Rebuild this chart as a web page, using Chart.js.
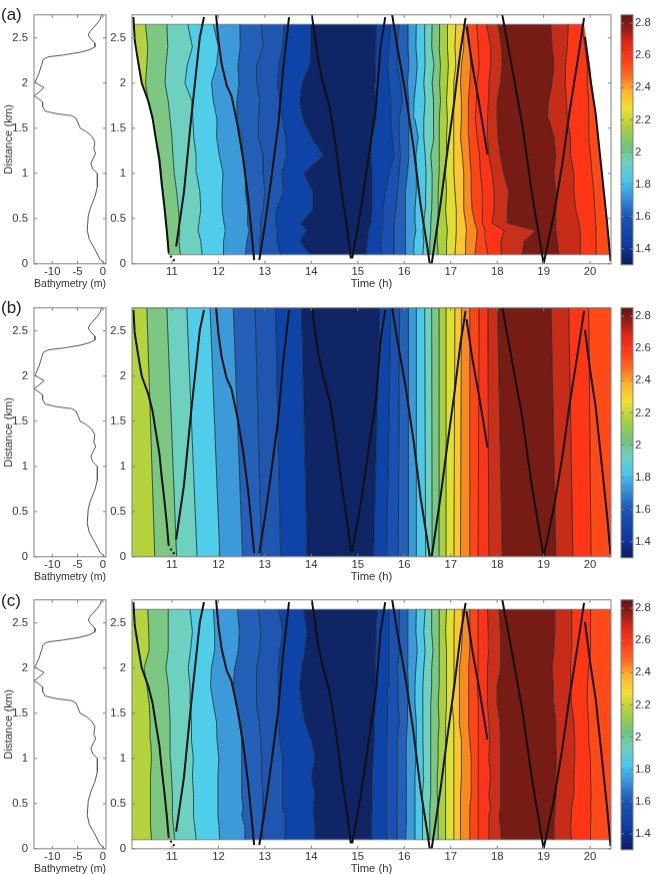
<!DOCTYPE html>
<html lang="en">
  <head>
    <meta charset="UTF-8" />
    <title>Bathymetry and contours</title>
    <script src="https://cdn.jsdelivr.net/npm/chart.js@4/dist/chart.umd.min.js"></script>
    <style>
      body { margin: 0; background: #fff; }
      #page { position: relative; width: 656px; height: 874px; overflow: hidden; }
      canvas { position: absolute; filter: blur(0.35px); }
      .tag { position: absolute; left: 1px; font: 17px "Liberation Sans", sans-serif; color: #222; }
    </style>
  </head>
  <body>
    <div id="page"></div>
    <script>
      // tick labels
      const distTicks = [0, 0.5, 1, 1.5, 2, 2.5];
      const bathyTicks = [-10, -5, 0];
      const timeTicks = [11, 12, 13, 14, 15, 16, 17, 18, 19, 20];
      const cbarTicks = [1.4, 1.6, 1.8, 2, 2.2, 2.4, 2.6, 2.8];

      // bathymetry profile, same in all three panels
      const bathyDist = [2.756, 2.7, 2.63, 2.57, 2.53, 2.49, 2.44, 2.4, 2.37, 2.34, 2.31, 2.29, 2.26, 2.2, 2.11, 2.01, 1.98, 1.95, 1.9, 1.86, 1.83, 1.79, 1.74, 1.69, 1.66, 1.64, 1.61, 1.53, 1.5, 1.46, 1.41, 1.35, 1.27, 1.22, 1.11, 1.05, 1, 0.85, 0.74, 0.63, 0.53, 0.37, 0.27, 0.16, 0.05, 0];
      const bathyDepth = [-0.26, -0.59, -1.58, -2.57, -2.89, -2.43, -1.58, -1.58, -2.57, -4.54, -7.83, -10.8, -11.8, -12.1, -12.6, -13.4, -12.6, -11.6, -12.6, -13.6, -12.8, -11.9, -11.9, -11.4, -9.1, -6.2, -5.3, -4.7, -4.5, -3.2, -2.2, -1.6, -1.8, -1.45, -2.4, -2.0, -1.1, -1.1, -1.6, -2.4, -2.9, -3.1, -2.7, -1.6, -0.6, 0.4];

      // ship track, null = break between legs
      const trackTime = [10.17, 10.2, 10.28, 10.35, 10.49, 10.58, 10.66, 10.73, 10.78, 10.83, 10.89, 10.93, null, 10.97, 10.99, null, 11.03, 11.05, null,
        11.09, 11.26, 11.4, 11.53, 11.6, 11.69, null,
        11.95, 12.0, 12.07, 12.18, 12.28, 12.41, 12.53, 12.64, 12.71, 12.77, null,
        12.88, 13.0, 13.14, 13.29, 13.39, 13.52, null,
        14.01, 14.08, 14.15, 14.24, 14.4, 14.53, 14.67, 14.78, 14.85, null,
        14.88, 15.06, 15.24, 15.39, 15.49, 15.59, null,
        15.74, 15.85, 16.03, 16.21, 16.35, 16.5, 16.55, null,
        16.59, 16.78, 16.93, 17.07, 17.21, 17.32, null,
        17.34, 17.46, 17.59, 17.71, 17.79, null,
        18.11, 18.32, 18.54, 18.75, 19.0, null,
        19.0, 19.22, 19.4, 19.56, 19.72, 19.87, null,
        19.89, 20.01, 20.12, 20.22, 20.37, 20.44];
      const trackDist = [2.73, 2.47, 2.21, 2.0, 1.8, 1.62, 1.36, 1.14, 0.88, 0.66, 0.36, 0.12, null, 0.09, 0.07, null, 0.05, 0.03, null,
        0.19, 0.8, 1.54, 2.17, 2.51, 2.73, null,
        2.755, 2.47, 2.21, 1.97, 1.86, 1.54, 1.17, 0.73, 0.36, 0.04, null,
        0.04, 0.43, 0.95, 1.54, 2.14, 2.73, null,
        2.755, 2.51, 2.25, 2.03, 1.72, 1.29, 0.73, 0.36, 0.06, null,
        0.06, 0.58, 1.21, 1.73, 2.4, 2.73, null,
        2.755, 2.4, 1.88, 1.25, 0.66, 0.17, 0, null,
        0, 0.66, 1.25, 1.77, 2.36, 2.72, null,
        2.63, 2.21, 1.84, 1.47, 1.21, null,
        2.755, 2.17, 1.54, 0.77, 0, null,
        0, 0.54, 1.1, 1.69, 2.21, 2.72, null,
        2.51, 2.03, 1.66, 1.17, 0.43, 0.03];

      // fill colour of each band, left to right
      const bandColors = ["#b5d33d", "#7cc882", "#6ed0bf", "#50cde8", "#3d9ad8", "#2460b8", "#1e56b0", "#0e44a8", "#0f2565",
        "#0e44a8", "#1a50b0", "#2460b8", "#3d9ad8", "#4cc8e8", "#6ed0bf", "#7cc882", "#a8d040", "#e0e030", "#fdc52e",
        "#fa8a20", "#ff4518", "#ff3318", "#c8301a", "#771c14", "#c62c18", "#ff3616", "#ff4a18"];

      // colour bar
      const cbarValues = [1.3, 1.42, 1.6, 1.72, 1.82, 1.93, 2.03, 2.15, 2.27, 2.38, 2.47, 2.58, 2.68, 2.75, 2.852];
      const cbarColors = ["#0c1c60", "#0f3a9c", "#1a56b4", "#3a90d8", "#46c8ee", "#6ed0c0", "#70c47c", "#a8d040", "#f0e030", "#fdb52e", "#fa7020", "#ff3a18", "#e02818", "#a02018", "#601414"];

      // contours of panel (a): time (h) of each line at distances in gridDist
      const gridDist = [2.65, 2.4, 2.2, 2, 1.8, 1.6, 1.4, 1.2, 1, 0.8, 0.6, 0.45, 0.37, 0.25, 0.1];
      const contoursA = [
        [10.17, 10.24, 10.29, 10.34, 10.49, 10.58, 10.65, 10.73, 10.77, 10.81, 10.85, 10.88, 10.89, 10.91, 10.93],
        [10.43, 10.48, 10.46, 10.43, 10.49, 10.58, 10.65, 10.73, 10.77, 10.81, 10.85, 10.88, 10.89, 10.91, 10.93],
        [10.89, 10.91, 10.87, 10.85, 10.92, 10.96, 11.0, 11.02, 11.05, 11.1, 11.14, 11.16, 11.17, 11.15, 11.18],
        [11.34, 11.44, 11.33, 11.28, 11.43, 11.45, 11.47, 11.52, 11.53, 11.6, 11.62, 11.58, 11.56, 11.62, 11.65],
        [11.89, 12.0, 11.96, 11.85, 11.89, 11.97, 11.96, 12.02, 12.1, 12.08, 12.08, 12.12, 12.15, 12.11, 12.1],
        [12.46, 12.47, 12.42, 12.44, 12.4, 12.39, 12.5, 12.53, 12.58, 12.58, 12.63, 12.62, 12.66, 12.61, 12.58],
        [12.92, 12.96, 12.82, 12.83, 12.89, 12.86, 12.86, 12.96, 12.96, 13.0, 12.96, 12.9, 12.92, 12.89, 12.9],
        [13.42, 13.38, 13.3, 13.27, 13.32, 13.37, 13.45, 13.47, 13.37, 13.4, 13.25, 13.23, 13.27, 13.26, 13.34],
        [13.99, 13.99, 13.97, 13.8, 13.75, 13.82, 14.0, 14.25, 13.84, 14.03, 14.03, 13.77, 13.9, 13.75, 13.97],
        [15.39, 15.39, 15.37, 15.35, 15.39, 15.39, 15.31, 15.28, 15.31, 15.31, 15.31, 15.28, 15.24, 15.21, 15.17],
        [15.71, 15.67, 15.64, 15.67, 15.71, 15.71, 15.74, 15.78, 15.67, 15.6, 15.53, 15.54, 15.53, 15.49, 15.51],
        [15.89, 15.85, 15.85, 15.92, 15.96, 15.89, 15.89, 15.92, 15.89, 15.85, 15.82, 15.78, 15.78, 15.78, 15.78],
        [16.08, 16.08, 16.1, 16.07, 16.1, 16.09, 16.1, 16.1, 16.07, 16.03, 16.03, 16.03, 16.02, 16.02, 16.02],
        [16.26, 16.25, 16.28, 16.25, 16.21, 16.23, 16.3, 16.25, 16.26, 16.26, 16.23, 16.23, 16.25, 16.21, 16.23],
        [16.44, 16.44, 16.45, 16.42, 16.45, 16.42, 16.42, 16.45, 16.47, 16.46, 16.45, 16.42, 16.4, 16.42, 16.4],
        [16.6, 16.59, 16.64, 16.6, 16.62, 16.64, 16.64, 16.57, 16.6, 16.6, 16.59, 16.57, 16.57, 16.55, 16.55],
        [16.76, 16.75, 16.78, 16.76, 16.78, 16.75, 16.75, 16.76, 16.75, 16.73, 16.73, 16.73, 16.71, 16.71, 16.73],
        [16.93, 16.93, 16.95, 16.93, 16.91, 16.93, 16.91, 16.91, 16.89, 16.91, 16.89, 16.91, 16.93, 16.91, 16.91],
        [17.11, 17.09, 17.11, 17.07, 17.07, 17.05, 17.07, 17.07, 17.07, 17.09, 17.12, 17.12, 17.12, 17.11, 17.09],
        [17.28, 17.28, 17.23, 17.21, 17.23, 17.23, 17.21, 17.25, 17.28, 17.28, 17.28, 17.32, 17.34, 17.32, 17.32],
        [17.36, 17.41, 17.43, 17.41, 17.38, 17.38, 17.39, 17.41, 17.44, 17.44, 17.46, 17.52, 17.57, 17.55, 17.52],
        [17.56, 17.59, 17.61, 17.57, 17.55, 17.53, 17.57, 17.62, 17.64, 17.68, 17.68, 17.68, 17.74, 17.75, 17.8],
        [17.77, 17.86, 17.86, 17.82, 17.81, 17.79, 17.79, 17.82, 17.89, 17.93, 17.93, 17.89, 18.15, 18.08, 18.09],
        [18.02, 18.09, 18.11, 18.07, 18.0, 18.0, 18.02, 18.07, 18.14, 18.25, 18.22, 18.22, 18.83, 18.58, 18.54],
        [19.15, 19.18, 19.22, 19.18, 19.1, 19.11, 19.22, 19.26, 19.22, 19.26, 19.26, 19.26, 19.26, 19.29, 19.33],
        [19.53, 19.51, 19.47, 19.46, 19.49, 19.51, 19.58, 19.58, 19.65, 19.65, 19.69, 19.76, 19.79, 19.79, 19.79],
        [19.83, 19.89, 19.94, 19.94, 19.97, 19.97, 19.97, 20.01, 20.04, 20.08, 20.1, 20.12, 20.13, 20.13, 20.13],
        [19.87, 19.94, 20.0, 20.04, 20.09, 20.13, 20.17, 20.22, 20.26, 20.31, 20.35, 20.38, 20.39, 20.42, 20.45],
      ];

      // contours of panel (b): straight lines, top and bottom time only
      const smoothDist = [2.755, 0];
      const contoursB = [
        [10.14, 10.14], [10.46, 10.63], [10.89, 11.1], [11.32, 11.54], [11.82, 12.03], [12.32, 12.52], [12.79, 12.93], [13.23, 13.34], [13.79, 13.91],
        [15.47, 15.34], [15.71, 15.62], [15.9, 15.87], [16.09, 16.09], [16.26, 16.26], [16.44, 16.46], [16.59, 16.6], [16.75, 16.75], [16.9, 16.9],
        [17.09, 17.07], [17.23, 17.21], [17.41, 17.41], [17.61, 17.59], [17.8, 17.82], [18.01, 18.11], [19.16, 19.26], [19.54, 19.63], [19.97, 20.02], [20.45, 20.45],
      ];

      // contours of panel (c), same distances as (a)
      const contoursC = [
        [10.14, 10.14, 10.14, 10.14, 10.14, 10.14, 10.14, 10.14, 10.14, 10.14, 10.14, 10.14, 10.14, 10.14, 10.14],
        [10.48, 10.5, 10.51, 10.4, 10.46, 10.51, 10.53, 10.54, 10.56, 10.54, 10.53, 10.54, 10.54, 10.54, 10.56],
        [10.92, 10.92, 10.92, 10.87, 10.92, 10.94, 10.96, 10.96, 10.97, 10.99, 11.01, 11.01, 11.01, 11.03, 11.06],
        [11.39, 11.44, 11.4, 11.35, 11.39, 11.4, 11.42, 11.42, 11.46, 11.44, 11.46, 11.47, 11.46, 11.49, 11.52],
        [11.89, 11.92, 11.92, 11.85, 11.83, 11.89, 11.96, 11.97, 12.01, 11.99, 11.99, 11.99, 11.99, 12.01, 12.03],
        [12.41, 12.45, 12.43, 12.35, 12.32, 12.38, 12.48, 12.5, 12.5, 12.5, 12.5, 12.53, 12.5, 12.57, 12.57],
        [12.86, 12.91, 12.89, 12.82, 12.82, 12.82, 12.88, 12.91, 12.93, 12.93, 12.96, 12.96, 12.96, 12.93, 12.96],
        [13.29, 13.39, 13.32, 13.29, 13.29, 13.29, 13.29, 13.32, 13.38, 13.38, 13.38, 13.39, 13.43, 13.43, 13.43],
        [13.84, 13.9, 13.86, 13.79, 13.75, 13.79, 13.86, 14.0, 14.08, 14.0, 14.08, 14.04, 14.04, 14.08, 14.08],
        [15.42, 15.39, 15.39, 15.37, 15.37, 15.39, 15.35, 15.35, 15.33, 15.31, 15.31, 15.31, 15.3, 15.3, 15.3],
        [15.67, 15.67, 15.67, 15.67, 15.66, 15.64, 15.64, 15.62, 15.62, 15.62, 15.62, 15.62, 15.62, 15.62, 15.62],
        [15.89, 15.9, 15.9, 15.85, 15.87, 15.87, 15.89, 15.85, 15.85, 15.85, 15.85, 15.84, 15.84, 15.84, 15.85],
        [16.08, 16.08, 16.07, 16.07, 16.09, 16.07, 16.07, 16.05, 16.05, 16.05, 16.04, 16.04, 16.04, 16.04, 16.03],
        [16.26, 16.25, 16.28, 16.25, 16.23, 16.23, 16.26, 16.26, 16.25, 16.23, 16.23, 16.23, 16.23, 16.23, 16.23],
        [16.45, 16.42, 16.45, 16.42, 16.4, 16.4, 16.4, 16.4, 16.41, 16.42, 16.39, 16.4, 16.39, 16.39, 16.39],
        [16.59, 16.59, 16.62, 16.59, 16.59, 16.57, 16.57, 16.57, 16.57, 16.57, 16.57, 16.55, 16.55, 16.55, 16.55],
        [16.75, 16.75, 16.76, 16.75, 16.75, 16.73, 16.75, 16.73, 16.73, 16.71, 16.71, 16.73, 16.73, 16.73, 16.73],
        [16.91, 16.89, 16.91, 16.91, 16.91, 16.91, 16.89, 16.89, 16.89, 16.89, 16.89, 16.89, 16.89, 16.89, 16.89],
        [17.08, 17.07, 17.07, 17.07, 17.06, 17.03, 17.05, 17.07, 17.07, 17.07, 17.07, 17.07, 17.07, 17.07, 17.07],
        [17.25, 17.25, 17.23, 17.19, 17.19, 17.18, 17.18, 17.23, 17.23, 17.23, 17.21, 17.21, 17.21, 17.21, 17.21],
        [17.41, 17.41, 17.41, 17.39, 17.39, 17.38, 17.38, 17.41, 17.44, 17.44, 17.44, 17.41, 17.41, 17.41, 17.41],
        [17.59, 17.59, 17.59, 17.59, 17.57, 17.59, 17.59, 17.59, 17.6, 17.59, 17.6, 17.59, 17.59, 17.6, 17.59],
        [17.79, 17.81, 17.82, 17.79, 17.79, 17.79, 17.82, 17.84, 17.82, 17.86, 17.82, 17.86, 17.82, 17.82, 17.82],
        [18.04, 18.07, 18.07, 18.07, 18.0, 18.0, 18.06, 18.07, 18.07, 18.07, 18.07, 18.07, 18.04, 18.07, 18.09],
        [19.24, 19.24, 19.22, 19.18, 19.21, 19.22, 19.26, 19.26, 19.27, 19.26, 19.27, 19.24, 19.24, 19.22, 19.22],
        [19.6, 19.61, 19.6, 19.58, 19.58, 19.6, 19.65, 19.67, 19.67, 19.65, 19.65, 19.6, 19.6, 19.58, 19.6],
        [20.01, 20.01, 20.01, 19.97, 19.94, 19.94, 19.97, 19.97, 20.01, 20.01, 20.02, 20.01, 20.02, 20.01, 20.01],
        [20.45, 20.45, 20.45, 20.45, 20.45, 20.45, 20.45, 20.45, 20.45, 20.45, 20.45, 20.45, 20.45, 20.45, 20.45],
      ];

      const TEXT = "#333";
      const FONT = { family: "'Liberation Sans', Arial, sans-serif", size: 11.3 };
      const page = document.getElementById("page");

      // MATLAB style box with inward ticks on every side
      const boxPlugin = {
        id: "box",
        afterDraw(chart) {
          const { ctx, chartArea: a, scales } = chart;
          ctx.save();
          ctx.strokeStyle = "#808080";
          ctx.lineWidth = 1;
          ctx.strokeRect(a.left, a.top, a.right - a.left, a.bottom - a.top);
          ctx.beginPath();
          if (scales.x && scales.x.options.display) {
            scales.x.ticks.forEach((t) => {
              const p = scales.x.getPixelForValue(t.value);
              ctx.moveTo(p, a.bottom); ctx.lineTo(p, a.bottom - 3);
              ctx.moveTo(p, a.top); ctx.lineTo(p, a.top + 3);
            });
          }
          scales.y.ticks.forEach((t) => {
            const p = scales.y.getPixelForValue(t.value);
            ctx.moveTo(a.left, p); ctx.lineTo(a.left + 3, p);
            ctx.moveTo(a.right, p); ctx.lineTo(a.right - 3, p);
          });
          ctx.stroke();
          ctx.restore();
        },
      };

      function addCanvas(x, w, h) {
        const c = document.createElement("canvas");
        c.width = w;
        c.height = h;
        c.style.left = x + "px";
        page.appendChild(c);
        return c.getContext("2d");
      }

      // layout adds label room on its own, so size the canvas from the plot area it ended with
      function placePlot(chart, top, plotHeight) {
        const a = chart.chartArea;
        const extra = plotHeight - (a.bottom - a.top);
        if (extra) chart.resize(chart.width, chart.height + extra);
        chart.canvas.style.top = top - chart.chartArea.top + "px";
      }

      function axis(min, max, tickList, width, height, extra, padding) {
        return Object.assign({
          type: "linear",
          min,
          max,
          grid: { display: false, drawTicks: false },
          border: { display: false },
          afterBuildTicks: (s) => { s.ticks = tickList.map((v) => ({ value: v })); },
          afterFit: (s) => {
            if (width) s.width = width;
            if (height) s.height = height;
          },
          ticks: { color: TEXT, font: FONT, padding, maxRotation: 0, autoSkip: false, callback: (v) => String(v) },
        }, extra);
      }

      const axisTitle = (text, padding) => ({ display: true, text, color: TEXT, font: FONT, padding });

      function baseOptions(padding) {
        return {
          responsive: false,
          maintainAspectRatio: false,
          animation: false,
          events: [],
          layout: { autoPadding: false, padding },
          plugins: { legend: { display: false }, tooltip: { enabled: false } },
        };
      }

      function drawBathy(top) {
        const chart = new Chart(addCanvas(0, 112, 288), {
          type: "line",
          data: {
            datasets: [{
              data: bathyDepth.map((d, i) => ({ x: d, y: bathyDist[i] })),
              borderColor: "#555",
              borderWidth: 1,
              pointRadius: 0,
            }],
          },
          options: Object.assign(baseOptions({ left: 0, top: 5, right: 6, bottom: 0 }), {
            scales: {
              x: axis(-13.6, 0.6, bathyTicks, 0, 30, { title: axisTitle("Bathymetry (m)", { top: 0, bottom: 3 }) }, 1),
              y: axis(0, 2.755, distTicks, 34, 0, { title: axisTitle("Distance (km)", { top: 2, bottom: 0 }) }, 6),
            },
          }),
          plugins: [boxPlugin],
        });
        placePlot(chart, top, 248);
      }

      function drawContours(top, dist, lines) {
        const ups = dist.slice().reverse();
        const bands = lines.map((line, i) => ({
          data: line.slice().reverse().map((t, k) => ({ x: t, y: ups[k] })),
          fill: i === 0 ? false : "-1",
          backgroundColor: i === 0 ? "transparent" : bandColors[i - 1],
          borderColor: i === 0 || i === lines.length - 1 ? "transparent" : "rgba(15,35,35,0.75)",
          borderWidth: 1,
          pointRadius: 0,
        }));
        // thin edge of the filled region, top and bottom
        const edge = (k) => ({
          data: [{ x: lines[0][k], y: dist[k] }, { x: lines[lines.length - 1][k], y: dist[k] }],
          borderColor: "rgba(40,60,70,0.6)",
          borderWidth: 1,
          pointRadius: 0,
          order: -1,
        });
        const track = {
          data: trackTime.map((t, i) => ({ x: t, y: trackDist[i] })),
          borderColor: "#111",
          borderWidth: 2,
          pointRadius: 0,
          order: -2,
        };
        const chart = new Chart(addCanvas(100, 520, 288), {
          type: "line",
          data: { datasets: bands.concat([edge(0), edge(dist.length - 1), track]) },
          options: Object.assign(baseOptions({ left: 0, top: 5, right: 9, bottom: 0 }), {
            indexAxis: "y",
            scales: {
              x: axis(10.14, 20.45, timeTicks, 0, 30, { title: axisTitle("Time (h)", { top: 0, bottom: 3 }) }, 1),
              y: axis(0, 2.755, distTicks, 32, 0, {}, 6),
            },
          }),
          plugins: [boxPlugin],
        });
        placePlot(chart, top, 248);
      }

      function drawColorbar(top) {
        const chart = new Chart(addCanvas(615, 41, 270), {
          type: "bar",
          data: {
            labels: ["c"],
            datasets: [{
              data: [[cbarValues[0], cbarValues[cbarValues.length - 1]]],
              barPercentage: 1,
              categoryPercentage: 1,
              backgroundColor(c) {
                const area = c.chart.chartArea;
                if (!area) return "#888";
                const g = c.chart.ctx.createLinearGradient(0, area.bottom, 0, area.top);
                const lo = cbarValues[0];
                const hi = cbarValues[cbarValues.length - 1];
                cbarValues.forEach((v, i) => g.addColorStop((v - lo) / (hi - lo), cbarColors[i]));
                return g;
              },
            }],
          },
          options: Object.assign(baseOptions({ left: 6, top: 5, right: 0, bottom: 0 }), {
            scales: {
              x: { display: false },
              y: axis(1.3, 2.852, cbarTicks, 23, 0, { position: "right" }, 2),
            },
          }),
          plugins: [boxPlugin],
        });
        placePlot(chart, top, 249);
      }

      function addTag(text, y) {
        const d = document.createElement("div");
        d.className = "tag";
        d.style.top = y + "px";
        d.textContent = text;
        page.appendChild(d);
      }

      drawBathy(15);
      drawContours(15, gridDist, contoursA);
      drawColorbar(15);
      addTag("(a)", 5);

      drawBathy(308);
      drawContours(308, smoothDist, contoursB);
      drawColorbar(308);
      addTag("(b)", 298);

      drawBathy(600);
      drawContours(600, gridDist, contoursC);
      drawColorbar(600);
      addTag("(c)", 591);
    </script>
  </body>
</html>
